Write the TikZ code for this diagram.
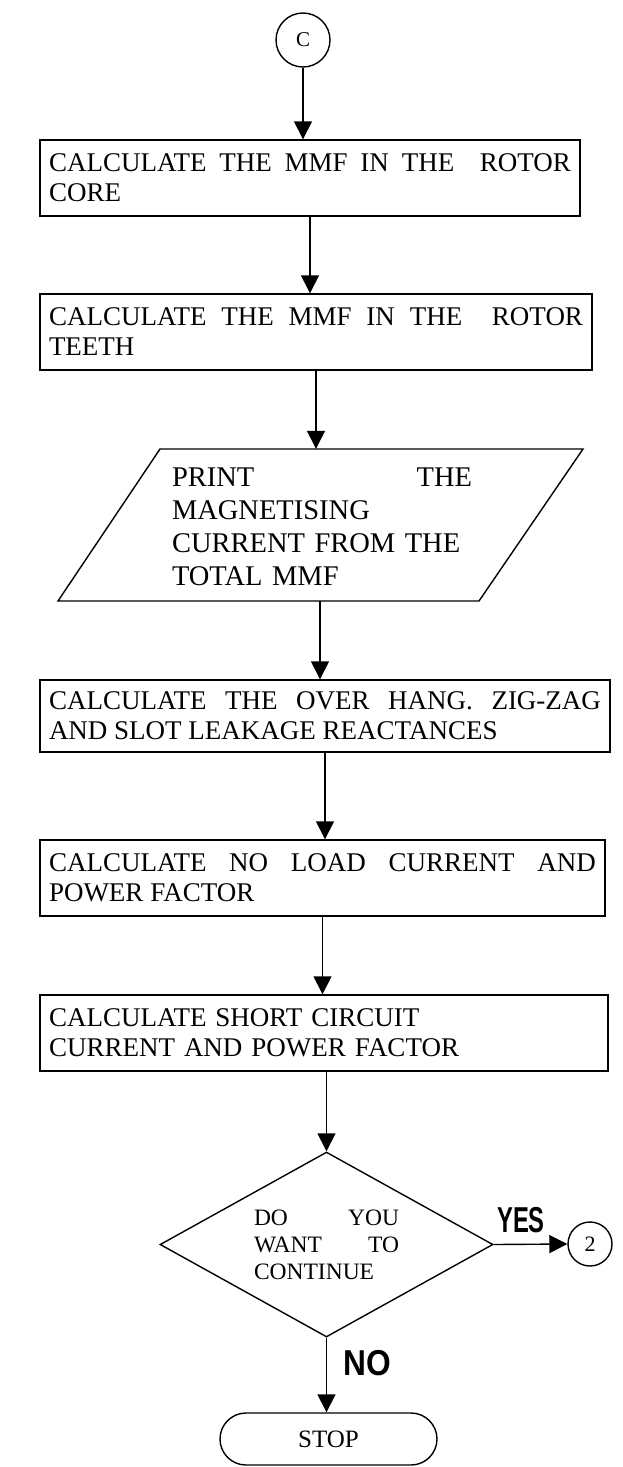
\documentclass[tikz,border=0pt]{standalone}
\usepackage{fontspec}
\usepackage{graphicx}
\setmainfont{Liberation Serif}
\newfontfamily\lsans{Liberation Sans}
\usetikzlibrary{arrows.meta,shapes.geometric}
\tikzset{
  lw/.style={line width=1.4pt},
  box/.style={draw, lw, rectangle, inner xsep=9pt, inner ysep=0pt, align=justify,
    font=\fontsize{27}{30}\selectfont},
  arr/.style={lw, -{Triangle[length=18pt,width=18pt]}},
  conn/.style={draw, lw, circle, inner sep=0pt},
  lab/.style={inner sep=0pt, font=\lsans\bfseries\fontsize{36}{36}\selectfont},
}
\begin{document}
\begin{tikzpicture}[x=1pt,y=-1pt]
\useasboundingbox (0,0) rectangle (622,1467);
\tolerance=10000 \hbadness=10000 \hyphenpenalty=10000
% connector C
\node[conn, minimum size=54pt, font=\fontsize{21}{21}\selectfont] (c1) at (303,40) {C};
% boxes
\node[box, text width=522pt, minimum height=76pt] (b1) at (310,178)
  {CALCULATE THE MMF IN THE~~ROTOR\linebreak CORE};
\node[box, text width=534pt, minimum height=76pt] (b2) at (316,332)
  {CALCULATE THE MMF IN THE~~ROTOR\linebreak TEETH};
% parallelogram
\node[minimum width=300pt, minimum height=152pt, inner sep=0pt] (par) at (320,525) {};
\draw[lw] (160,449) -- (583,449) -- (479,601) -- (58,601) -- cycle;
\node[inner sep=0pt, text width=300pt, align=left, font=\fontsize{28.5}{33}\selectfont] (ptext) at (322,527)
  {PRINT\hfill THE\hspace*{9pt}\\MAGNETISING\\CURRENT FROM THE\\TOTAL MMF};
\node[box, text width=552pt, minimum height=72pt] (b3) at (325,716)
  {CALCULATE THE OVER HANG. ZIG-ZAG\linebreak AND SLOT LEAKAGE REACTANCES};
\node[box, text width=547pt, minimum height=76pt] (b4) at (322.5,878)
  {CALCULATE NO LOAD CURRENT AND\linebreak POWER FACTOR};
\node[box, text width=550pt, minimum height=76pt, align=left] (b5) at (324,1033)
  {CALCULATE SHORT CIRCUIT\\CURRENT AND POWER FACTOR};
% decision
\node[draw, lw, diamond, aspect=1.8, inner sep=0pt, minimum width=333pt, minimum height=185pt,
  text width=145pt, align=left, font=\fontsize{23.5}{27}\selectfont] (dia) at (326.5,1244.5)
  {DO\hfill YOU\\WANT\hfill TO\\CONTINUE};
\node[conn, minimum size=44pt, font=\fontsize{22}{22}\selectfont] (c2) at (590,1244) {2};
\node[draw, lw, rectangle, rounded corners=26pt, minimum width=217pt, minimum height=52pt,
  font=\fontsize{25}{25}\selectfont] (stop) at (328.5,1439) {STOP};
% labels
\node[lab] (yes) at (521,1220) {\scalebox{0.66}[1]{YES}};
\node[lab] (no) at (367,1363) {\scalebox{0.88}[1]{NO}};
% connectors
\draw[arr] (c1.south) -- (c1.south |- b1.north);
\draw[arr] (b1.south) -- (b1.south |- b2.north);
\draw[arr] (b2.south) -- (b2.south |- par.north);
\draw[arr] (par.south) -- (par.south |- b3.north);
\draw[arr] (b3.south) -- (b3.south |- b4.north);
\draw[arr] (b4.south) -- (b4.south |- b5.north);
\draw[arr] (dia.north |- b5.south) -- (dia.north);
\draw[arr] (dia.east) -- (c2.west);
\draw[arr] (dia.south) -- (dia.south |- stop.north);
\end{tikzpicture}
\end{document}
